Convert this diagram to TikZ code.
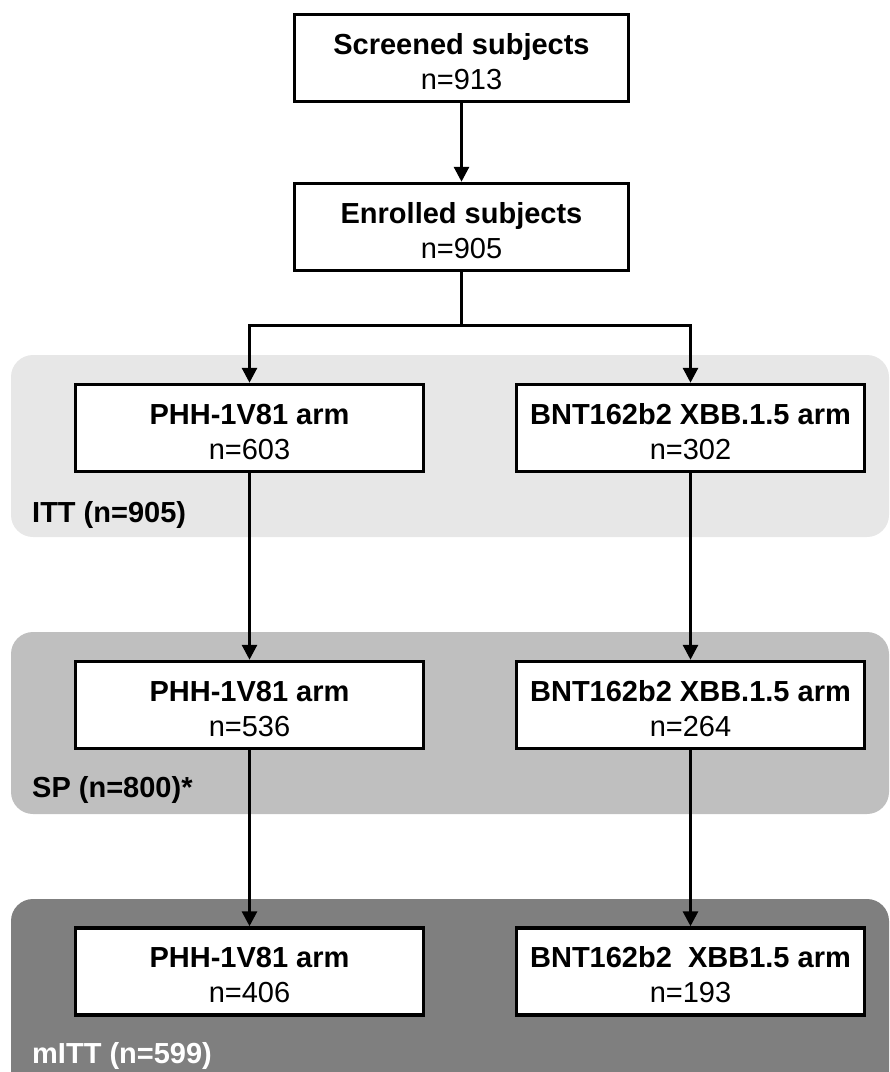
\documentclass[tikz,border=0pt]{standalone}
\usepackage{fontspec}
\setmainfont{Liberation Sans}
\usetikzlibrary{arrows.meta}
\definecolor{ittgray}{HTML}{E7E7E7}
\definecolor{spgray}{HTML}{BFBFBF}
\definecolor{mittgray}{HTML}{7F7F7F}
\newcommand{\bxt}[2]{\rule{0pt}{28pt}\textbf{#1}\\#2}
\begin{document}
\begin{tikzpicture}[x=1pt,y=-1pt,
  boxstyle/.style={draw=black, line width=3.5pt, fill=white, inner sep=0pt,
    minimum height=87pt, align=center, font=\fontsize{29}{35}\selectfont},
  smallbox/.style={boxstyle, minimum width=334pt},
  armbox/.style={boxstyle, minimum width=348pt},
  band/.style={rounded corners=22pt, draw=none},
  bandlabel/.style={anchor=base west, inner sep=0pt, font=\fontsize{29}{33}\selectfont\bfseries},
  conn/.style={line width=3pt, draw=black},
  arr/.style={conn, -{Triangle[length=15pt,width=15pt]}}
]
\useasboundingbox (0,0) rectangle (890,1072);
\clip (0,0) rectangle (890,1072);

% bands
\fill[band, ittgray] (11,355) rectangle (889,537);
\fill[band, spgray] (11,632) rectangle (889,814);
\fill[band, mittgray] (11,899) rectangle (889,1095);

\node[bandlabel] (ittlab) at (32,522) {ITT (n=905)};
\node[bandlabel] (splab) at (32,797) {SP (n=800)*};
\node[bandlabel, text=white] (mittlab) at (32,1063) {mITT (n=599)};

% nodes
\node[smallbox] (scr) at (461.5,58) {\bxt{Screened subjects}{n=913}};
\node[smallbox] (enr) at (461.5,227) {\bxt{Enrolled subjects}{n=905}};

\node[armbox] (l1) at (249.5,428) {\bxt{PHH-1V81 arm}{n=603}};
\node[armbox] (r1) at (690.5,428) {\bxt{BNT162b2 XBB.1.5 arm}{n=302}};

\node[armbox] (l2) at (249.5,705) {\bxt{PHH-1V81 arm}{n=536}};
\node[armbox] (r2) at (690.5,705) {\bxt{BNT162b2 XBB.1.5 arm}{n=264}};

\node[armbox] (l3) at (249.5,971.5) {\bxt{PHH-1V81 arm}{n=406}};
\node[armbox] (r3) at (690.5,971.5) {\bxt{BNT162b2\ \ XBB1.5 arm}{n=193}};

\coordinate (br) at (461.5,325);

% connectors
\draw[arr] (scr.south) -- (enr.north);
\draw[conn] (enr.south) -- (br);
\draw[arr] (br) -| (l1.north);
\draw[arr] (br) -| (r1.north);
\draw[arr] (l1.south) -- (l2.north);
\draw[arr] (r1.south) -- (r2.north);
\draw[arr] (l2.south) -- (l3.north);
\draw[arr] (r2.south) -- (r3.north);
\end{tikzpicture}
\end{document}
